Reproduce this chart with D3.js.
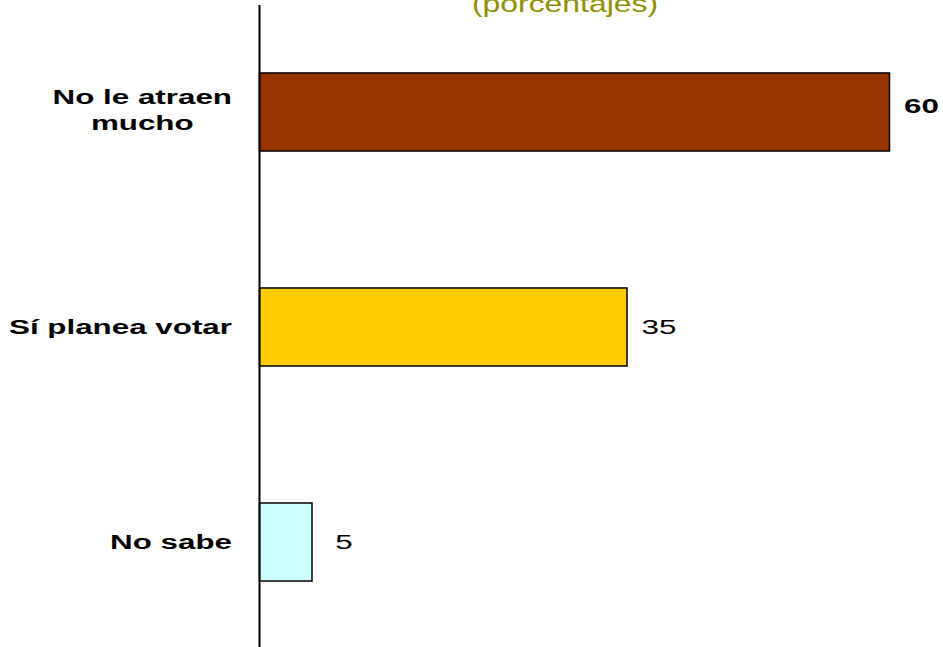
<!DOCTYPE html>
<html>
<head>
<meta charset="utf-8">
<script src="https://cdn.jsdelivr.net/npm/d3@7"></script>
<style>
  html, body { margin: 0; padding: 0; background: #fff; }
  svg { display: block; }
  text { font-family: "Liberation Sans", Arial, sans-serif; }
</style>
</head>
<body>
<script>
// ---- data ----
const categories = ["No le atraen mucho", "Sí planea votar", "No sabe"];
const categoryLines = [["No le atraen", "mucho"], ["Sí planea votar"], ["No sabe"]];
const values = [60, 35, 5];
const barColors = ["#993300", "#FFCC00", "#CCFFFF"];
const titleText = "(porcentajes)";

// ---- layout ----
const W = 943, H = 647;
const axisX = 259.5, plotRight = 889.5;
const bandTop = 4.5, bandBottom = 649.5;
const labelRight = 232;
const sx = 1.53; // horizontal stretch of the slide text

const svg = d3.select("body").append("svg").attr("width", W).attr("height", H);

const x = d3.scaleLinear().domain([0, 60]).range([axisX, plotRight]);
const y = d3.scaleBand().domain(categories).range([bandTop, bandBottom])
  .paddingInner(0.637).paddingOuter(0.637 / 2);

// title (top is cut by the slide edge)
svg.append("text")
  .attr("transform", `translate(565,12) scale(1.33,1)`)
  .attr("text-anchor", "middle")
  .attr("font-size", 24)
  .attr("fill", "#8f8f00")
  .text(titleText);

// bars
svg.selectAll("rect.bar").data(values).enter().append("rect")
  .attr("class", "bar")
  .attr("x", x(0))
  .attr("y", (d, i) => y(categories[i]))
  .attr("width", d => x(d) - x(0))
  .attr("height", y.bandwidth())
  .attr("fill", (d, i) => barColors[i])
  .attr("stroke", "#000")
  .attr("stroke-width", 1.5);

// axis line (category axis, no ticks)
const yAxis = d3.axisLeft(y).tickSize(0).tickFormat("");
const ag = svg.append("g").attr("transform", `translate(${axisX},0)`).call(yAxis);
ag.select(".domain").attr("stroke", "#000").attr("stroke-width", 2)
  .attr("d", `M0,5V${H}`);

// category labels
const maxV = d3.max(values);
categories.forEach((c, i) => {
  const lines = categoryLines[i];
  const cy = y(c) + y.bandwidth() / 2;
  const lineH = 26;
  const firstBaseline = cy + 7 - (lines.length - 1) * lineH / 2 - (lines.length > 1 ? 2 : 0);
  const g = svg.append("g")
    .attr("transform", `translate(${labelRight},${firstBaseline}) scale(${sx},1)`);
  const ts = lines.map((ln, k) => g.append("text")
    .attr("y", k * lineH)
    .attr("font-size", 20.5)
    .attr("font-weight", "bold")
    .attr("fill", "#000")
    .text(ln));
  const maxW = d3.max(ts, t => t.node().getComputedTextLength());
  ts.forEach(t => t.attr("x", -maxW / 2).attr("text-anchor", "middle"));
});

// value labels
values.forEach((v, i) => {
  const cy = y(categories[i]) + y.bandwidth() / 2;
  const emph = v === maxV;
  svg.append("text")
    .attr("transform", `translate(${x(v) + 32},${cy + 7 - (emph ? 6 : 0)}) scale(${sx},1)`)
    .attr("text-anchor", "middle")
    .attr("font-size", 20.5)
    .attr("font-weight", emph ? "bold" : "normal")
    .attr("fill", "#000")
    .text(v);
});
</script>
</body>
</html>
